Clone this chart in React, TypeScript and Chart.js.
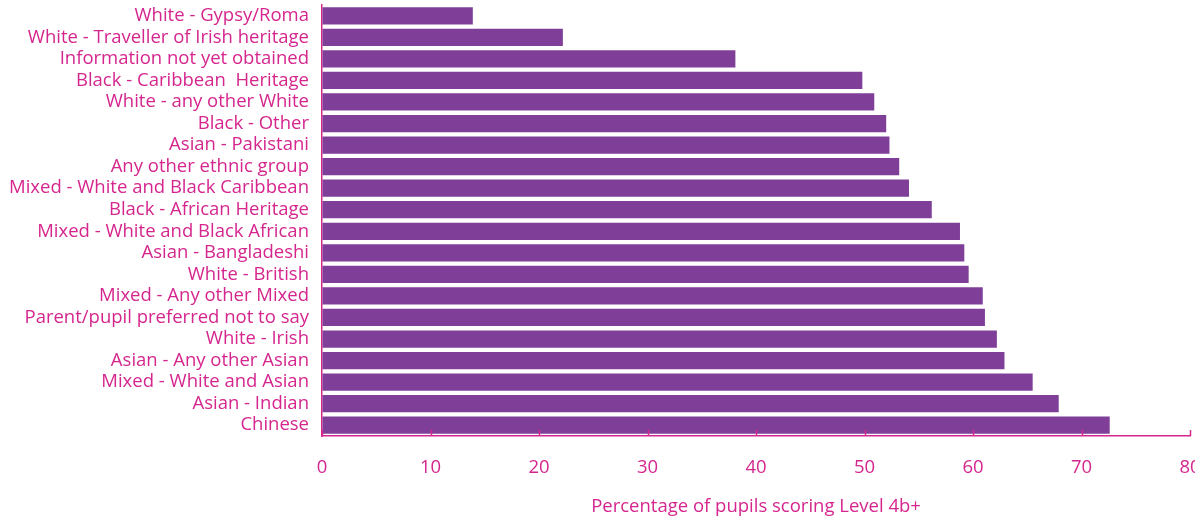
import React, { useEffect, useRef } from "react";
import { Chart, registerables } from "chart.js";

Chart.register(...registerables);

const categories: string[] = [
  "White - Gypsy/Roma",
  "White - Traveller of Irish heritage",
  "Information not yet obtained",
  "Black - Caribbean  Heritage",
  "White - any other White",
  "Black - Other",
  "Asian - Pakistani",
  "Any other ethnic group",
  "Mixed - White and Black Caribbean",
  "Black - African Heritage",
  "Mixed - White and Black African",
  "Asian - Bangladeshi",
  "White - British",
  "Mixed - Any other Mixed",
  "Parent/pupil preferred not to say",
  "White - Irish",
  "Asian - Any other Asian",
  "Mixed - White and Asian",
  "Asian - Indian",
  "Chinese",
];

const values: number[] = [
  13.9, 22.2, 38.1, 49.8, 50.9, 52.0, 52.3, 53.2, 54.1, 56.2,
  58.8, 59.2, 59.6, 60.9, 61.1, 62.2, 62.9, 65.5, 67.9, 72.6,
];

const xTicks: number[] = [0, 10, 20, 30, 40, 50, 60, 70, 80];
const axisTitle = "Percentage of pupils scoring Level 4b+";

const PINK = "#D5268E";
const PURPLE = "#7F3F98";
const FONT = "'Open Sans', Lato, sans-serif";
const FS = 18.5;

export default function App() {
  const ref = useRef<HTMLCanvasElement | null>(null);

  useEffect(() => {
    document.body.style.margin = "0";
    document.body.style.overflow = "hidden";
    document.documentElement.style.overflow = "hidden";
    if (!ref.current) return;

    const upTicks = {
      id: "upTicks",
      afterDraw(chart: any) {
        const x = chart.scales.x;
        const ctx = chart.ctx;
        const yb = chart.chartArea.bottom;
        ctx.save();
        ctx.strokeStyle = PINK;
        ctx.lineWidth = 1.5;
        xTicks.forEach((v) => {
          const px = Math.round(x.getPixelForValue(v)) + 0.5;
          ctx.beginPath();
          ctx.moveTo(px, yb);
          ctx.lineTo(px, yb - 6);
          ctx.stroke();
        });
        ctx.restore();
      },
    };

    const chart = new Chart(ref.current, {
      type: "bar",
      data: {
        labels: categories,
        datasets: [
          {
            data: values,
            backgroundColor: PURPLE,
            borderWidth: 0,
            barPercentage: 0.8,
            categoryPercentage: 1,
          },
        ],
      },
      options: {
        indexAxis: "y",
        animation: false,
        responsive: false,
        maintainAspectRatio: false,
        layout: { padding: { top: 5, left: 0, right: 5, bottom: 0 } },
        plugins: {
          legend: { display: false },
          tooltip: { enabled: false },
        },
        scales: {
          x: {
            min: 0,
            max: 80,
            afterBuildTicks: (s: any) => {
              s.ticks = xTicks.map((v) => ({ value: v }));
            },
            afterFit: (s: any) => {
              s.height = 86;
              s.paddingLeft = 0;
              s.paddingRight = 0;
            },
            grid: { display: true, drawOnChartArea: false, drawTicks: false },
            border: { display: true, color: PINK, width: 1.5 },
            ticks: {
              color: PINK,
              font: { family: FONT, size: FS },
              padding: 21,
              maxRotation: 0,
            },
            title: {
              display: true,
              text: axisTitle,
              color: PINK,
              font: { family: FONT, size: FS },
              padding: { top: 0, bottom: 4 },
            },
          },
          y: {
            afterFit: (s: any) => {
              s.width = 322;
              s.paddingTop = 0;
              s.paddingBottom = 0;
            },
            grid: { display: true, drawOnChartArea: false, drawTicks: false },
            border: { display: true, color: PINK, width: 1.5 },
            ticks: {
              color: PINK,
              font: { family: FONT, size: FS },
              padding: 13,
              autoSkip: false,
            },
          },
        },
      },
      plugins: [upTicks],
    });
    return () => chart.destroy();
  }, []);

  return (
    <div style={{ position: "absolute", left: 0, top: 0, width: 1195, height: 522 }}>
      <canvas ref={ref} width={1195} height={522} style={{ width: 1195, height: 522 }} />
    </div>
  );
}
